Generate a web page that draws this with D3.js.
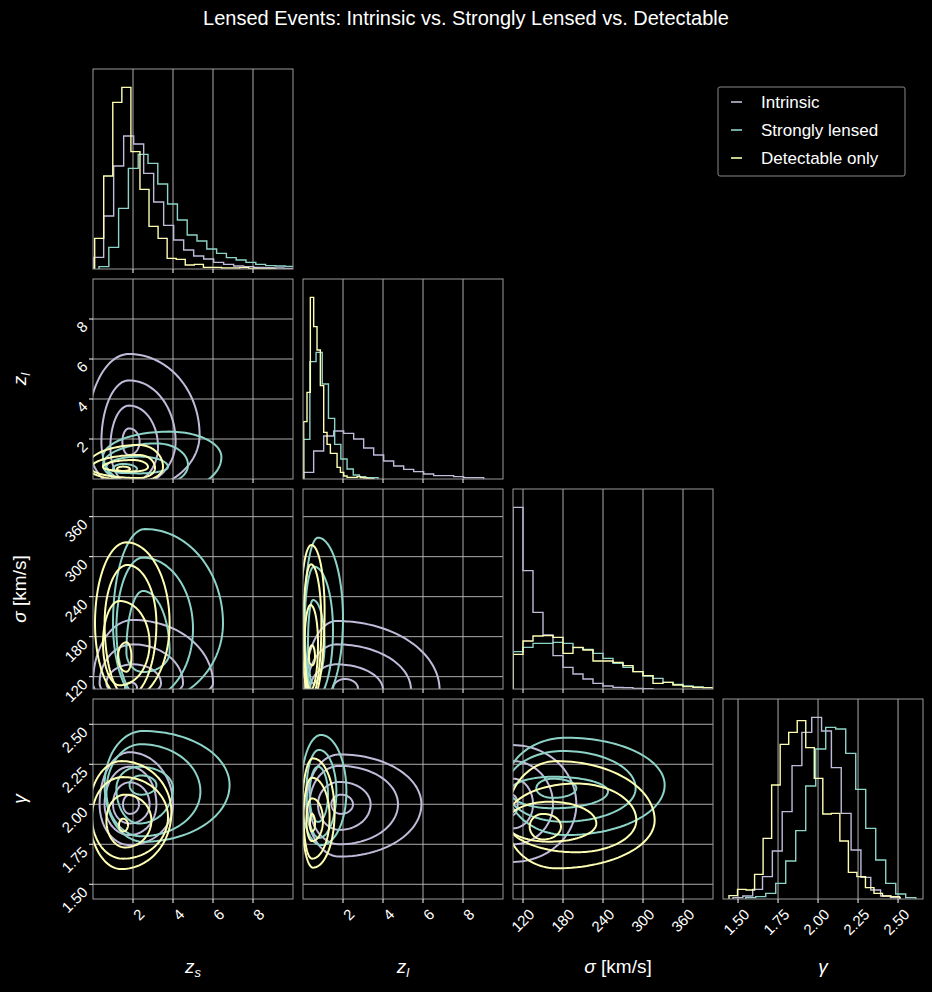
<!DOCTYPE html>
<html><head><meta charset="utf-8">
<script src="https://cdn.jsdelivr.net/npm/d3@7/dist/d3.min.js"></script>
<style>body{margin:0;background:#000}svg{display:block}text{font-family:"Liberation Sans",Arial,sans-serif;fill:#fff}</style>
</head><body><svg id="c" width="932" height="992"></svg>
<script>
const series = ["Intrinsic","Strongly lensed","Detectable only"];
const colors = ["#bfbbd9","#8dd3c7","#feffb3"];
const varNames = ["zs","zl","sigma","gamma"];
const xDomains = [[0,10],[0,10],[105,405],[1.406,2.656]];
const yDomains = [[0,10],[0,10],[101.5,401.5],[1.408,2.658]];
const ticks = [[2,4,6,8],[2,4,6,8],[120,180,240,300,360],[1.5,1.75,2.0,2.25,2.5]];
const tickFmt = [d=>d, d=>d, d=>d, d=>d.toFixed(2)];

// histograms: [start, binWidth, values] per series (Intrinsic, Lensed, Detectable)
const histZs = [
 [0.033,0.5,[35,159,309,399,375,287,201,131,87,57,39,30,20,14,9,7,5,4,3,2]],
 [0.3,0.49,[7,65,182,302,344,317,255,195,147,102,84,60,47,34,27,20,14,10,9,8]],
 [0.083,0.453,[92,279,500,545,352,239,128,92,32,29,12,14,5,5,3,3,4,2,1,1]]];
const histZl = [
 [0.033,0.5,[20,84,129,144,137,120,93,72,54,39,29,22,15,10,10,7,4,4]],
 [0.033,0.31,[119,352,380,285,182,104,60,30,12,7,4,4]],
 [0.033,0.167,[172,260,545,457,387,280,140,104,77,77,35,20,9,5,5,5,7,4,3,2,1]]];
const histSig = [
 [105,15,[545,355,230,162,100,65,45,30,17,9,5,4,2,1]],
 [105,15,[112,125,137,137,140,137,124,119,107,92,77,65,52,39,32,20,14,9,6,4]],
 [105,15,[104,144,159,160,155,107,125,117,84,84,80,70,52,40,17,20,12,7,5,4]]];
const histGam = [
 [1.4685,0.0615,[4,9,29,67,144,262,400,500,545,504,394,257,147,65,27,9,4]],
 [1.548,0.0625,[4,7,17,47,114,205,339,450,515,510,437,329,212,117,47,15,4]],
 [1.4435,0.0533,[10,29,27,74,182,342,464,500,535,454,362,255,257,174,80,67,34,17,9,7]]];
const hists = [histZs, histZl, histSig, histGam];

// contours: [xmin, xmax, ymin, ymax, cx, cy] in data units, per series
const contZlZs = [
 [[-0.3,5.33,-0.6,6.25,1.8,2.2],[0.42,4.13,-0.4,4.93,1.8,1.87],[0.87,3.25,-0.2,3.67,1.8,1.6],[1.47,2.33,1.2,2.53,1.8,1.87]],
 [[0.5,6.42,-0.6,2.37,3.8,1.1],[0.5,4.75,-0.3,1.78,3.17,0.7],[0.67,3.75,0.28,1.12,2.33,0.6],[1.0,2.2,0.3,0.75,1.5,0.5]],
 [[-0.3,3.5,-0.1,1.7,2.3,0.6],[-0.1,3.1,0.05,1.2,2.3,0.55],[0.5,2.75,0.37,0.95,2.0,0.6],[1.2,1.85,0.4,0.62,1.5,0.5]]];
const contSigZs = [
 [[0,6,80,205,2,110],[0.33,4.5,85,168.5,2,110],[0.67,3.4,90,138.5,2,110],[1.6,2.2,95,111.5,1.9,103]],
 [[1.0,6.5,80,341.5,2.6,200],[1.17,5.0,85,298.5,2.5,192],[1.67,3.83,127,248.5,2.5,157]],
 [[0.1,3.83,85,321.5,1.67,200],[0.58,3.17,90,287.5,1.72,200],[0.5,2.83,107,233.5,1.33,170],[1.25,1.92,127.5,171.5,1.67,150]]];
const contSigZl = [
 [[0.08,6.83,80,203.5,1.67,100],[0.2,5.4,85,168.5,1.67,100],[0.35,4.0,90,138.5,1.67,100],[1.5,2.75,95,116.5,2.1,102]],
 [[0.08,2.0,80,328.5,0.75,207],[0.08,1.5,85,285,0.55,190],[0.25,1.08,110,235,0.5,170]],
 [[-0.1,1.08,85,317.5,0.42,220],[0.03,0.92,90,288.5,0.4,200],[0.08,0.75,100,227.5,0.38,170],[0.3,0.6,137,167,0.45,150]]];
const contGZs = [
 [[0.33,4.0,1.745,2.325,1.83,2.0],[0.58,3.17,1.808,2.235,1.83,2.0],[1.0,2.83,1.88,2.137,1.83,2.0],[1.5,2.3,1.94,2.06,1.85,2.0]],
 [[0.58,6.83,1.766,2.458,2.5,2.12],[0.67,5.37,1.80,2.375,2.4,2.08],[1.17,4.0,1.88,2.235,2.3,2.1],[1.83,3.17,2.06,2.18,2.4,2.12]],
 [[-0.2,3.92,1.595,2.27,1.42,1.95],[-0.05,3.75,1.66,2.17,1.5,1.92],[0.67,2.92,1.73,2.06,1.6,1.9],[1.3,1.75,1.83,1.91,1.5,1.87]]];
const contGZl = [
 [[0.17,5.92,1.673,2.312,1.83,2.0],[0.33,4.75,1.75,2.24,1.83,2.0],[0.75,3.38,1.84,2.14,1.83,2.0],[1.42,2.5,1.94,2.06,1.9,2.0]],
 [[-0.1,2.17,1.745,2.433,0.9,2.08],[0.17,1.67,1.79,2.34,0.8,2.08],[0.33,1.25,1.89,2.235,0.75,2.06]],
 [[-0.05,1.58,1.604,2.287,0.5,1.95],[0.03,1.33,1.66,2.166,0.45,1.92],[0.17,1.0,1.77,2.037,0.45,1.9],[0.35,0.6,1.83,1.94,0.45,1.88]]];
const contGSig = [
 [[60,200,1.64,2.37,105,2.0],[70,165,1.75,2.27,105,2.0],[80,135,1.85,2.16,105,2.0],[95,112,1.93,2.06,103,2.0]],
 [[95,332.5,1.808,2.416,185,2.12],[95,289,1.891,2.333,180,2.1],[100,247.5,1.975,2.172,165,2.08],[140,200,2.04,2.16,165,2.1]],
 [[95,317.5,1.6,2.27,170,1.9],[95,290,1.7,2.13,200,1.9],[95,230,1.766,2.016,160,1.88],[130,177,1.78,1.94,150,1.86]]];
const contours = {"1-0":contZlZs,"2-0":contSigZs,"2-1":contSigZl,"3-0":contGZs,"3-1":contGZl,"3-2":contGSig};

const svg = d3.select("#c");
svg.append("rect").attr("width",932).attr("height",992).attr("fill","#000");
const colX = [93,303,513,723], rowY = [69,279,489,699], S = 200;

svg.append("text").attr("x",466).attr("y",25).attr("text-anchor","middle").attr("font-size",20)
  .text("Lensed Events: Intrinsic vs. Strongly Lensed vs. Detectable");

function ellipsePts(c){
  const [x0,x1,y0,y1,cx,cy]=c, pts=[];
  for(let i=0;i<=120;i++){const t=i/120*2*Math.PI, co=Math.cos(t), si=Math.sin(t);
    pts.push([cx+(co>=0?x1-cx:cx-x0)*co, cy+(si>=0?y1-cy:cy-y0)*si]);}
  return pts;
}

for(let r=0;r<4;r++) for(let c=0;c<=r;c++){
  const g = svg.append("g").attr("transform",`translate(${colX[c]},${rowY[r]})`);
  const x = d3.scaleLinear().domain(xDomains[c]).range([0,S]);
  const diag = r===c;
  const y = diag ? d3.scaleLinear().domain([0,600]).range([S,0]) : d3.scaleLinear().domain(yDomains[r]).range([S,0]);
  const id = `clip${r}${c}`;
  g.append("clipPath").attr("id",id).append("rect").attr("width",S).attr("height",S);
  const grid = g.append("g").attr("stroke","#c0c0c0").attr("stroke-width",0.9);
  ticks[c].forEach(t=>grid.append("line").attr("x1",x(t)).attr("x2",x(t)).attr("y1",0).attr("y2",S));
  if(!diag) ticks[r].forEach(t=>grid.append("line").attr("y1",y(t)).attr("y2",y(t)).attr("x1",0).attr("x2",S));
  const plot = g.append("g").attr("clip-path",`url(#${id})`).attr("fill","none").attr("stroke-width",2);
  if(diag){
    hists[c].forEach((h,si)=>{
      const [s,w,v]=h; const pts=[[s,0]];
      v.forEach((val,i)=>{pts.push([s+i*w,val]);pts.push([s+(i+1)*w,val]);});
      pts.push([s+v.length*w,0]);
      plot.append("path").attr("d",d3.line().x(d=>x(d[0])).y(d=>y(d[1]))(pts)).attr("stroke",colors[si]).attr("stroke-width",1.4);
    });
  } else {
    const cs = contours[`${r}-${c}`];
    cs.forEach((lvls,si)=>lvls.forEach(cc=>{
      plot.append("path").attr("d",d3.line().x(d=>x(d[0])).y(d=>y(d[1])).curve(d3.curveLinearClosed)(ellipsePts(cc)))
        .attr("stroke",colors[si]);
    }));
  }
  g.append("rect").attr("width",S).attr("height",S).attr("fill","none").attr("stroke","#9a9a9a").attr("stroke-width",1);
  ticks[c].forEach(t=>g.append("line").attr("x1",x(t)).attr("x2",x(t)).attr("y1",S).attr("y2",S+4).attr("stroke","#fff"));
  if(!diag && c===0) ticks[r].forEach(t=>g.append("line").attr("x1",-4).attr("x2",0).attr("y1",y(t)).attr("y2",y(t)).attr("stroke","#fff"));
  if(r===3) ticks[c].forEach(t=>{
    g.append("text").attr("font-size",15).attr("text-anchor","end")
      .attr("transform",`translate(${x(t)+5},${S+9}) rotate(-45)`).attr("dy","0.7em").text(tickFmt[c](t));
  });
  if(!diag && c===0) ticks[r].forEach(t=>{
    g.append("text").attr("font-size",15).attr("text-anchor","end")
      .attr("transform",`translate(-8,${y(t)+5}) rotate(-45)`).attr("dy","0.35em").text(tickFmt[r](t));
  });
}

function label(sel, kind){
  if(kind==="zs"){sel.append("tspan").attr("font-style","italic").text("z");sel.append("tspan").attr("font-style","italic").attr("font-size",13).attr("dy",4).text("s");}
  else if(kind==="zl"){sel.append("tspan").attr("font-style","italic").text("z");sel.append("tspan").attr("font-style","italic").attr("font-size",13).attr("dy",4).text("l");}
  else if(kind==="sigma"){sel.append("tspan").attr("font-style","italic").text("σ");sel.append("tspan").text(" [km/s]");}
  else {sel.append("tspan").attr("font-style","italic").text("γ");}
}
varNames.forEach((v,i)=>{
  const t=svg.append("text").attr("x",colX[i]+100+(i===2?5:0)).attr("y",973).attr("text-anchor","middle").attr("font-size",19);
  label(t,v);
  if(i>0){
    const t2=svg.append("text").attr("transform",`translate(26,${rowY[i]+100}) rotate(-90)`).attr("text-anchor","middle").attr("font-size",19);
    label(t2,v);
  }
});

const lg = svg.append("g").attr("transform","translate(718,87)");
lg.append("rect").attr("width",187).attr("height",89).attr("fill","#000").attr("stroke","#888").attr("rx",2);
series.forEach((s,i)=>{
  lg.append("line").attr("x1",13).attr("x2",24).attr("y1",15+i*28).attr("y2",15+i*28).attr("stroke",colors[i]).attr("stroke-width",1.6);
  lg.append("text").attr("x",43).attr("y",21+i*28).attr("font-size",17).text(s);
});
</script></body></html>
